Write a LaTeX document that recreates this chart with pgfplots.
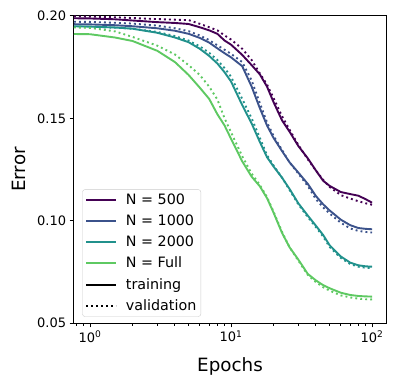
\documentclass[border=0pt]{standalone}
\usepackage{fontspec}
\setmainfont{DejaVu Sans}
\usepackage{pgfplots}
\usepackage{pgfplotstable}
\pgfplotsset{compat=1.18}
\definecolor{viridisA}{HTML}{440154}
\definecolor{viridisB}{HTML}{3B528B}
\definecolor{viridisC}{HTML}{21918C}
\definecolor{viridisD}{HTML}{5EC962}
\definecolor{legedge}{HTML}{CCCCCC}
% columns: epoch, N500 train, N500 val, N1000 train, N1000 val, N2000 train, N2000 val, Full train, Full val
\pgfplotstableread{
x    at     av     bt     bv     ct     cv     dt     dv
0.77 0.1989 0.1998 0.1960 0.1972 0.1950 0.1947 0.1912 0.1944
1    0.1988 0.1997 0.1959 0.1971 0.1948 0.1946 0.1911 0.1942
1.5  0.1984 0.1994 0.1955 0.1967 0.1944 0.1943 0.1895 0.1925
2    0.1978 0.1990 0.1950 0.1963 0.1938 0.1938 0.1878 0.1898
3    0.1970 0.1985 0.1940 0.1953 0.1918 0.1922 0.1830 0.1855
4    0.1966 0.1982 0.1928 0.1940 0.1895 0.1902 0.1775 0.1812
5    0.1961 0.1980 0.1913 0.1926 0.1872 0.1880 0.1712 0.1760
6    0.1945 0.1962 0.1893 0.1905 0.1840 0.1852 0.1650 0.1712
7    0.1930 0.1945 0.1870 0.1882 0.1805 0.1820 0.1595 0.1655
8    0.1913 0.1930 0.1842 0.1857 0.1768 0.1785 0.1520 0.1592
9    0.1880 0.1905 0.1818 0.1835 0.1725 0.1745 0.1465 0.1500
10   0.1860 0.1885 0.1798 0.1815 0.1680 0.1703 0.1400 0.1432
12   0.1810 0.1840 0.1755 0.1775 0.1565 0.1595 0.1290 0.1315
14   0.1760 0.1785 0.1655 0.1685 0.1475 0.1500 0.1215 0.1230
16   0.1715 0.1720 0.1550 0.1575 0.1385 0.1405 0.1168 0.1175
18   0.1655 0.1665 0.1465 0.1480 0.1310 0.1320 0.1110 0.1115
20   0.1580 0.1600 0.1405 0.1415 0.1265 0.1270 0.1040 0.1045
23   0.1490 0.1510 0.1340 0.1345 0.1210 0.1210 0.0940 0.0945
26   0.1435 0.1445 0.1285 0.1285 0.1155 0.1150 0.0870 0.0870
30   0.1365 0.1370 0.1235 0.1230 0.1085 0.1080 0.0810 0.0805
35   0.1305 0.1300 0.1180 0.1170 0.1025 0.1018 0.0740 0.0735
40   0.1245 0.1245 0.1120 0.1105 0.0975 0.0968 0.0708 0.0700
45   0.1195 0.1200 0.1080 0.1065 0.0930 0.0922 0.0685 0.0675
50   0.1170 0.1165 0.1050 0.1035 0.0880 0.0872 0.0670 0.0658
60   0.1140 0.1125 0.1005 0.0990 0.0825 0.0818 0.0648 0.0635
70   0.1130 0.1108 0.0978 0.0962 0.0795 0.0788 0.0637 0.0625
80   0.1122 0.1095 0.0964 0.0950 0.0782 0.0775 0.0632 0.0619
90   0.1105 0.1085 0.0960 0.0945 0.0777 0.0770 0.0630 0.0616
100  0.1088 0.1078 0.0958 0.0942 0.0775 0.0768 0.0629 0.0615
}\datatable
\begin{document}
\begin{tikzpicture}
\begin{axis}[
  scale only axis,
  width=312pt, height=307pt,
  xmode=log,
  xmin=0.77, xmax=125.6,
  ymin=0.05, ymax=0.20,
  xtick={1,10,100},
  xticklabels={10\textsuperscript{0},10\textsuperscript{1},10\textsuperscript{2}},
  minor xtick={0.8,0.9,2,3,4,5,6,7,8,9,20,30,40,50,60,70,80,90},
  ytick={0.05,0.10,0.15,0.20},
  yticklabels={0.05,0.10,0.15,0.20},
  tick pos=left,
  tick align=outside,
  major tick length=4.4pt,
  minor tick length=2.5pt,
  every tick/.style={black, line width=1pt},
  axis line style={line width=1pt},
  ticklabel style={font=\fontsize{13}{15}\selectfont},
  xlabel={Epochs},
  ylabel={Error},
  label style={font=\fontsize{18.3}{22}\selectfont},
  xlabel style={yshift=-9pt},
  ylabel style={yshift=4pt},
  clip=true,
  legend cell align=left,
  legend style={
    at={(axis description cs:0.0266,0.0205)}, anchor=south west,
    draw=legedge, rounded corners=2.5pt, fill=white, fill opacity=0.8, text opacity=1,
    font=\fontsize{14.3}{16}\selectfont,
    row sep=5.9pt, inner xsep=3pt, inner ysep=3pt,
    nodes={inner sep=1.5pt},
  },
  legend image code/.code={\draw[#1] (0pt,0pt) -- (30pt,0pt); \path (37pt,0pt);},
]
\addplot[color=viridisA, line width=1.9pt, forget plot] table[x=x,y=at]{\datatable};
\addplot[color=viridisA, line width=1.9pt, dash pattern=on 1.9pt off 3.1pt, forget plot] table[x=x,y=av]{\datatable};
\addplot[color=viridisB, line width=1.9pt, forget plot] table[x=x,y=bt]{\datatable};
\addplot[color=viridisB, line width=1.9pt, dash pattern=on 1.9pt off 3.1pt, forget plot] table[x=x,y=bv]{\datatable};
\addplot[color=viridisC, line width=1.9pt, forget plot] table[x=x,y=ct]{\datatable};
\addplot[color=viridisC, line width=1.9pt, dash pattern=on 1.9pt off 3.1pt, forget plot] table[x=x,y=cv]{\datatable};
\addplot[color=viridisD, line width=1.9pt, forget plot] table[x=x,y=dt]{\datatable};
\addplot[color=viridisD, line width=1.9pt, dash pattern=on 1.9pt off 3.1pt, forget plot] table[x=x,y=dv]{\datatable};
\addlegendimage{color=viridisA, line width=1.9pt}
\addlegendentry{N = 500}
\addlegendimage{color=viridisB, line width=1.9pt}
\addlegendentry{N = 1000}
\addlegendimage{color=viridisC, line width=1.9pt}
\addlegendentry{N = 2000}
\addlegendimage{color=viridisD, line width=1.9pt}
\addlegendentry{N = Full}
\addlegendimage{color=black, line width=1.9pt}
\addlegendentry{training}
\addlegendimage{color=black, line width=1.9pt, dash pattern=on 1.9pt off 3.1pt}
\addlegendentry{validation}
\end{axis}
\pgfresetboundingbox
\path[use as bounding box] (-74pt,-63pt) rectangle (322pt,323pt);
\end{tikzpicture}
\end{document}
